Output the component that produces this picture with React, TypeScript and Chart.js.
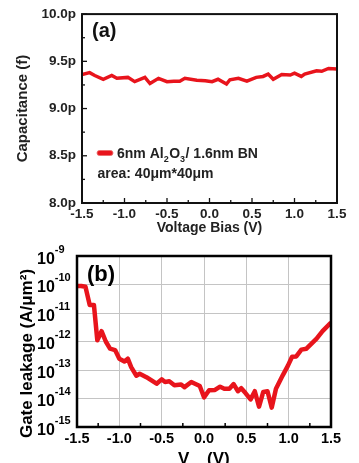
import React, { useEffect, useRef } from 'react';
import { Chart, registerables } from 'chart.js';

Chart.register(...registerables);

const FONT = "'Liberation Sans', Arial, Helvetica, sans-serif";
const RED = '#e8141c';

// ---------- Panel (a): capacitance vs voltage bias ----------
const biasA = [-1.5, -1.41, -1.35, -1.25, -1.15, -1.09, -0.96, -0.88, -0.76, -0.7, -0.6, -0.5, -0.42, -0.35, -0.29, -0.15, -0.05, 0.03, 0.1, 0.2, 0.24, 0.34, 0.44, 0.55, 0.63, 0.69, 0.75, 0.85, 0.95, 1.0, 1.08, 1.12, 1.26, 1.32, 1.4, 1.5];
const capA = [9.36, 9.38, 9.35, 9.31, 9.35, 9.32, 9.33, 9.285, 9.33, 9.265, 9.32, 9.285, 9.29, 9.29, 9.32, 9.3, 9.295, 9.285, 9.31, 9.26, 9.305, 9.32, 9.29, 9.33, 9.34, 9.365, 9.31, 9.36, 9.355, 9.375, 9.34, 9.365, 9.4, 9.395, 9.425, 9.42];
const xTicksA = [-1.5, -1.0, -0.5, 0.0, 0.5, 1.0, 1.5];
const xMinorA = [-1.25, -0.75, -0.25, 0.25, 0.75, 1.25];
const yTicksA = [8.0, 8.5, 9.0, 9.5, 10.0];
const yMinorA = [8.25, 8.75, 9.25, 9.75];
const legendA = ['6nm Al', '2', 'O', '3', '/ 1.6nm BN'];
const areaTextA = 'area: 40\u03bcm*40\u03bcm';

// ---------- Panel (b): gate leakage vs gate voltage ----------
const voltB = [-1.5, -1.45, -1.4, -1.35, -1.3, -1.26, -1.21, -1.16, -1.11, -1.05, -1.0, -0.94, -0.9, -0.86, -0.8, -0.76, -0.68, -0.56, -0.5, -0.46, -0.41, -0.35, -0.27, -0.23, -0.15, -0.05, 0.0, 0.06, 0.13, 0.19, 0.24, 0.3, 0.35, 0.4, 0.44, 0.49, 0.55, 0.6, 0.65, 0.7, 0.75, 0.8, 0.85, 0.93, 0.99, 1.04, 1.09, 1.15, 1.21, 1.33, 1.4, 1.5];
const leakB = [8.9e-11, 8.9e-11, 8.3e-11, 1.9e-11, 1.9e-11, 1.1e-12, 2.3e-12, 1.0e-12, 5.6e-13, 5.0e-13, 2.5e-13, 2.0e-13, 2.5e-13, 1.26e-13, 6.3e-14, 7.4e-14, 5.6e-14, 3.3e-14, 4.7e-14, 3.8e-14, 4.0e-14, 2.9e-14, 3.1e-14, 2.5e-14, 3.8e-14, 2.75e-14, 1.1e-14, 1.95e-14, 2.0e-14, 2.6e-14, 2.2e-14, 2.2e-14, 3.2e-14, 1.8e-14, 2.3e-14, 1.55e-14, 9.3e-15, 1.8e-14, 5.2e-15, 1.7e-14, 1.8e-14, 4.8e-15, 2.2e-14, 6.5e-14, 1.4e-13, 2.9e-13, 3.0e-13, 5.2e-13, 5.6e-13, 1.26e-12, 2.3e-12, 4.6e-12];
const xTicksB = [-1.5, -1.0, -0.5, 0.0, 0.5, 1.0, 1.5];
const xMinorB = [-1.25, -0.75, -0.25, 0.25, 0.75, 1.25];
const yTicksB = [1e-15, 1e-14, 1e-13, 1e-12, 1e-11, 1e-10, 1e-9];

const panelAPlugin = {
  id: 'panelA',
  afterDraw(chart: any) {
    const { ctx, chartArea: a, scales } = chart;
    ctx.save();
    const seg = (x1: number, y1: number, x2: number, y2: number) => {
      ctx.beginPath(); ctx.moveTo(x1, y1); ctx.lineTo(x2, y2); ctx.stroke();
    };
    ctx.strokeStyle = '#111';
    ctx.lineWidth = 1.3;
    xTicksA.forEach((v) => { const p = scales.x.getPixelForValue(v); seg(p, a.bottom, p, a.bottom - 5); });
    xMinorA.forEach((v) => { const p = scales.x.getPixelForValue(v); seg(p, a.bottom, p, a.bottom - 3); });
    yTicksA.forEach((v) => { const p = scales.y.getPixelForValue(v); seg(a.left, p, a.left + 5, p); });
    yMinorA.forEach((v) => { const p = scales.y.getPixelForValue(v); seg(a.left, p, a.left + 3, p); });
    ctx.lineWidth = 2;
    ctx.strokeRect(a.left, a.top, a.right - a.left, a.bottom - a.top);

    ctx.fillStyle = '#111';
    ctx.textAlign = 'left';
    ctx.textBaseline = 'alphabetic';
    ctx.font = `bold 20px ${FONT}`;
    ctx.fillText('(a)', 92, 36.5);

    // legend sample
    ctx.fillStyle = RED;
    ctx.strokeStyle = 'rgba(235,110,110,0.9)';
    ctx.lineWidth = 1;
    ctx.beginPath();
    ctx.roundRect(97, 150.5, 16, 5, 2.5);
    ctx.fill();
    ctx.stroke();

    ctx.fillStyle = '#222';
    let x = 117;
    const base = 157.5;
    legendA.forEach((t, i) => {
      const sub = i === 1 || i === 3;
      ctx.font = sub ? `bold 9px ${FONT}` : `bold 14px ${FONT}`;
      ctx.fillText(t, x, sub ? base + 4 : base);
      x += ctx.measureText(t).width + (sub ? 0.5 : 0);
    });
    ctx.font = `bold 14px ${FONT}`;
    ctx.fillText(areaTextA, 97.5, 177.5);
    ctx.restore();
  },
};

const panelBPlugin = {
  id: 'panelB',
  afterDraw(chart: any) {
    const { ctx, chartArea: a, scales } = chart;
    ctx.save();
    ctx.strokeStyle = '#000';
    ctx.lineWidth = 1.5;
    xMinorB.forEach((v) => {
      const p = scales.x.getPixelForValue(v);
      ctx.beginPath(); ctx.moveTo(p, a.bottom); ctx.lineTo(p, a.bottom - 4); ctx.stroke();
    });
    ctx.lineWidth = 2.5;
    ctx.strokeRect(a.left, a.top, a.right - a.left, a.bottom - a.top);

    ctx.fillStyle = '#000';
    ctx.textAlign = 'left';
    ctx.textBaseline = 'alphabetic';
    // y tick labels 10^n
    yTicksB.forEach((v) => {
      const p = scales.y.getPixelForValue(v);
      const e = Math.round(Math.log10(v));
      ctx.font = `bold 16px ${FONT}`;
      ctx.fillText('10', 37, p + 7.5);
      const w = ctx.measureText('10').width;
      ctx.font = `bold 11px ${FONT}`;
      ctx.fillText(String(e), 37 + w, p - 3.5);
    });

    ctx.font = `bold 22px ${FONT}`;
    ctx.fillText('(b)', 87, 40.5);

    // y title
    ctx.save();
    ctx.translate(27, 113.5);
    ctx.rotate(-Math.PI / 2);
    ctx.textAlign = 'center';
    ctx.textBaseline = 'middle';
    ctx.font = `bold 17px ${FONT}`;
    ctx.fillText('Gate leakage (A/\u03bcm\u00b2)', 0, 0);
    ctx.restore();

    // x title (cut by the bottom edge)
    ctx.font = `bold 17px ${FONT}`;
    ctx.fillText('V', 178, 224);
    ctx.font = `bold 11px ${FONT}`;
    ctx.fillText('g', 191, 229);
    ctx.font = `bold 17px ${FONT}`;
    ctx.fillText('(V)', 207, 224);
    ctx.restore();
  },
};

function PanelA() {
  const ref = useRef<HTMLCanvasElement>(null);
  useEffect(() => {
    const chart = new Chart(ref.current as HTMLCanvasElement, {
      type: 'line',
      data: {
        datasets: [{
          data: biasA.map((v, i) => ({ x: v, y: capA[i] })),
          borderColor: RED,
          borderWidth: 3.5,
          pointRadius: 0,
          tension: 0,
          fill: false,
        }],
      },
      options: {
        animation: false,
        responsive: false,
        devicePixelRatio: 1,
        layout: { padding: { top: 13, right: 22, left: 0, bottom: 0 } },
        plugins: { legend: { display: false }, tooltip: { enabled: false } },
        scales: {
          x: {
            type: 'linear', min: -1.5, max: 1.5,
            afterBuildTicks: (s: any) => { s.ticks = xTicksA.map((value) => ({ value })); },
            afterFit: (s: any) => { s.height = 37; s.paddingLeft = 0; s.paddingRight = 0; },
            grid: { display: false, drawTicks: false },
            border: { display: false },
            ticks: { color: '#222', font: { family: FONT, size: 13.5, weight: 'bold' }, padding: 3, callback: (v: any) => Number(v).toFixed(1), maxRotation: 0 },
            title: { display: true, text: 'Voltage Bias (V)', color: '#222', font: { family: FONT, size: 14, weight: 'bold' }, padding: { top: 0, bottom: 3.6 } },
          },
          y: {
            type: 'linear', min: 8.0, max: 10.0,
            afterBuildTicks: (s: any) => { s.ticks = yTicksA.map((value) => ({ value })); },
            afterFit: (s: any) => { s.width = 82; },
            grid: { display: false, drawTicks: false },
            border: { display: false },
            ticks: { color: '#222', font: { family: FONT, size: 13.5, weight: 'bold' }, padding: 6, callback: (v: any) => Number(v).toFixed(1) + 'p' },
            title: { display: true, text: 'Capacitance (f)', color: '#222', font: { family: FONT, size: 15, weight: 'bold' }, padding: { top: 14, bottom: 0 } },
          },
        },
      } as any,
      plugins: [panelAPlugin],
    });
    return () => chart.destroy();
  }, []);
  return <canvas ref={ref} width={359} height={240} style={{ display: 'block', width: 359, height: 240 }} />;
}

function PanelB() {
  const ref = useRef<HTMLCanvasElement>(null);
  useEffect(() => {
    const chart = new Chart(ref.current as HTMLCanvasElement, {
      type: 'line',
      data: {
        datasets: [{
          data: voltB.map((v, i) => ({ x: v, y: leakB[i] })),
          borderColor: RED,
          borderWidth: 4.5,
          pointRadius: 0,
          tension: 0,
          fill: false,
          borderJoinStyle: 'round',
        }],
      },
      options: {
        animation: false,
        responsive: false,
        devicePixelRatio: 1,
        layout: { padding: { top: 16, right: 28, left: 0, bottom: 0 } },
        plugins: { legend: { display: false }, tooltip: { enabled: false } },
        scales: {
          x: {
            type: 'linear', min: -1.5, max: 1.5,
            afterBuildTicks: (s: any) => { s.ticks = xTicksB.map((value) => ({ value })); },
            afterFit: (s: any) => { s.height = 36; s.paddingLeft = 0; s.paddingRight = 0; },
            grid: { color: '#c4c4c4', lineWidth: 1, drawTicks: false },
            border: { display: false },
            ticks: { color: '#000', font: { family: FONT, size: 14.5, weight: 'bold' }, padding: 3, callback: (v: any) => Number(v).toFixed(1), maxRotation: 0 },
          },
          y: {
            type: 'logarithmic', min: 1e-15, max: 1e-9,
            afterBuildTicks: (s: any) => { s.ticks = yTicksB.map((value) => ({ value })); },
            afterFit: (s: any) => { s.width = 77; s.paddingTop = 0; s.paddingBottom = 0; },
            grid: { color: '#c4c4c4', lineWidth: 1, drawTicks: false },
            border: { display: false },
            ticks: { display: false },
          },
        },
      } as any,
      plugins: [panelBPlugin],
    });
    return () => chart.destroy();
  }, []);
  return <canvas ref={ref} width={359} height={223} style={{ display: 'block', width: 359, height: 223 }} />;
}

export default function App() {
  return (
    <div style={{ position: 'absolute', left: 0, top: 0, width: 359, height: 463, background: '#fff', overflow: 'hidden' }}>
      <PanelA />
      <PanelB />
    </div>
  );
}
